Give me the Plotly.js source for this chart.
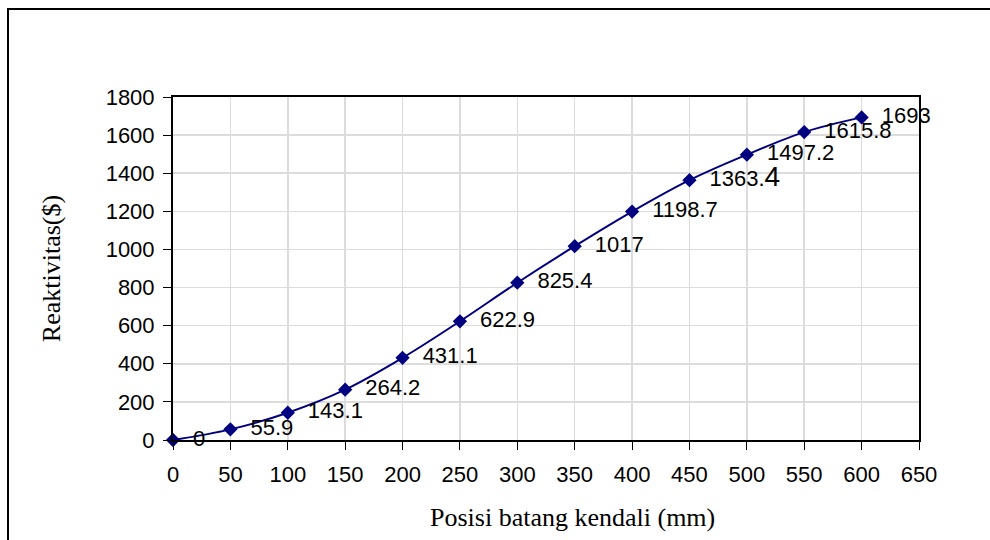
<!DOCTYPE html>
<html>
<head>
<meta charset="utf-8">
<script src="https://cdn.plot.ly/plotly-3.0.1.min.js"></script>
<style>
  html, body { margin: 0; padding: 0; background: #ffffff; }
  #chart { width: 990px; height: 540px; }
</style>
</head>
<body>
<div id="chart"></div>
<script>
// Data
const positions = [0, 50, 100, 150, 200, 250, 300, 350, 400, 450, 500, 550, 600];
const reactivity = [0, 55.9, 143.1, 264.2, 431.1, 622.9, 825.4, 1017, 1198.7, 1363.4, 1497.2, 1615.8, 1693];
const pointLabels = ['0', '55.9', '143.1', '264.2', '431.1', '622.9', '825.4', '1017', '1198.7',
  '1363.<span style="font-size:28px">4</span>', '1497.2', '1615.8', '1693'];
const xTitle = 'Posisi batang kendali (mm)';
const yTitle = 'Reaktivitas($)';

const pad = '\u00A0\u00A0';

const trace = {
  x: positions,
  y: reactivity,
  text: pointLabels.map(function (t) { return pad + t; }),
  type: 'scatter',
  mode: 'lines+markers+text',
  textposition: 'middle right',
  textfont: { family: 'Liberation Sans, Arial, sans-serif', size: 22, color: '#000000' },
  line: { color: '#000080', width: 2, shape: 'spline', smoothing: 1 },
  marker: { symbol: 'diamond', size: 11, color: '#000080' },
  cliponaxis: false,
  hoverinfo: 'x+y'
};

const layout = {
  width: 990,
  height: 540,
  margin: { l: 173, r: 71, t: 97, b: 100 },
  paper_bgcolor: '#ffffff',
  plot_bgcolor: '#ffffff',
  showlegend: false,
  font: { family: 'Liberation Sans, Arial, sans-serif', size: 22, color: '#000000' },
  xaxis: {
    range: [0, 650],
    tick0: 0,
    dtick: 50,
    ticks: 'outside',
    ticklen: 8,
    tickwidth: 1,
    tickcolor: '#000000',
    ticklabelstandoff: 6,
    showline: true,
    linecolor: '#000000',
    linewidth: 2,
    mirror: true,
    showgrid: true,
    gridcolor: '#dcdcdc',
    gridwidth: 1.5,
    zeroline: false,
    tickfont: { family: 'Liberation Sans, Arial, sans-serif', size: 22, color: '#000000' }
  },
  yaxis: {
    range: [0, 1800],
    tick0: 0,
    dtick: 200,
    ticks: 'outside',
    ticklen: 8,
    tickwidth: 1,
    tickcolor: '#000000',
    ticklabelstandoff: 4,
    showline: true,
    linecolor: '#000000',
    linewidth: 2,
    mirror: true,
    showgrid: true,
    gridcolor: '#dcdcdc',
    gridwidth: 1.5,
    zeroline: false,
    tickfont: { family: 'Liberation Sans, Arial, sans-serif', size: 22, color: '#000000' },
    title: {
      text: yTitle,
      standoff: 38,
      font: { family: 'Liberation Serif, Times New Roman, serif', size: 26, color: '#000000' }
    }
  },
  annotations: [{
    text: xTitle,
    xref: 'paper', yref: 'paper',
    x: (572 - 173) / 746, y: (440 - 517) / 343,
    xanchor: 'center', yanchor: 'middle',
    showarrow: false,
    font: { family: 'Liberation Serif, Times New Roman, serif', size: 26, color: '#000000' }
  }],
  shapes: [{
    type: 'rect',
    xref: 'paper', yref: 'paper',
    x0: (8 - 173) / 746, x1: (1000 - 173) / 746,
    y0: (440 - 560) / 343, y1: (440 - 9) / 343,
    line: { color: '#000000', width: 2 },
    fillcolor: 'rgba(0,0,0,0)',
    layer: 'below'
  }]
};

Plotly.newPlot('chart', [trace], layout, { displayModeBar: false, staticPlot: true });
</script>
</body>
</html>
